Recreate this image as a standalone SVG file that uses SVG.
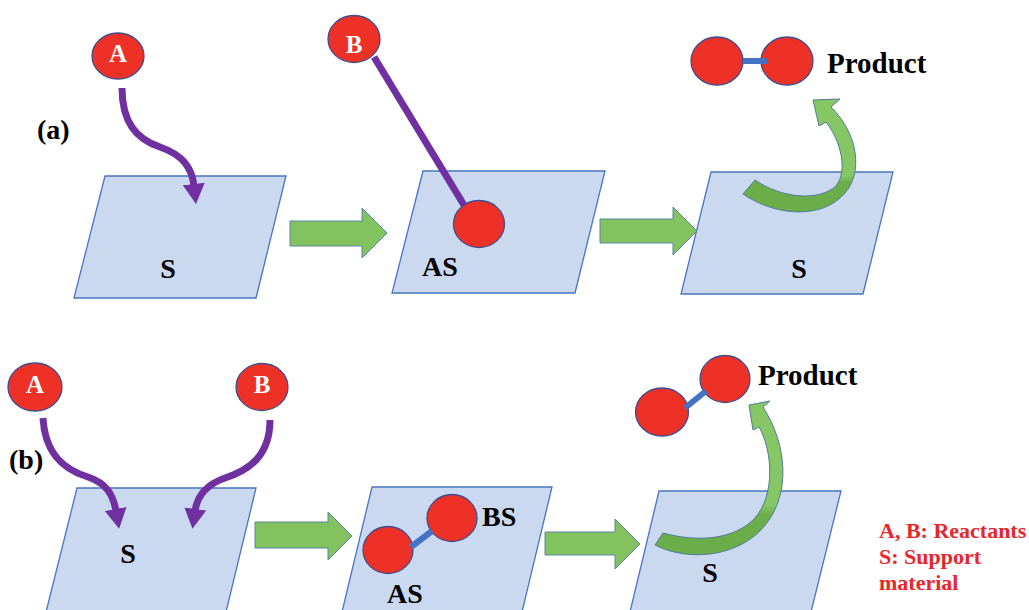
<svg xmlns="http://www.w3.org/2000/svg" width="1029" height="610" viewBox="0 0 1029 610">
<style>
  .surf { fill: #CBD9F0; stroke: #4A74BE; stroke-width: 1.3; }
  .atom { fill: #EE3126; stroke: #3E4C8E; stroke-width: 1.3; }
  .bond { stroke: #4472C4; stroke-width: 6; fill: none; }
  .purple { stroke: #7030A0; stroke-width: 7; fill: none; }
  .block { fill: #82C360; stroke: #5A86A8; stroke-width: 1; }
  .curl { fill: url(#curlFill); stroke: #4F7B9A; stroke-width: 1; }
  text { font-family: "Liberation Serif", "Times New Roman", serif; font-weight: bold; }
  .lbl { font-size: 28px; fill: #000; }
  .atomlbl { font-size: 25px; fill: #fff; text-anchor: middle; }
  .prod { font-size: 29px; fill: #000; }
  .panel { font-size: 28px; fill: #000; }
  .legend { font-size: 22px; fill: #E8262B; }
</style>
<defs>
  <marker id="purpleHead" viewBox="0 0 20 22" refX="2" refY="11" markerWidth="20" markerHeight="22" markerUnits="userSpaceOnUse" orient="auto">
    <path d="M0,0 L20,11 L0,22 Z" fill="#7030A0"/>
  </marker>
  <linearGradient id="curlFill" x1="0" y1="0" x2="0" y2="1">
    <stop offset="0" stop-color="#86C664"/>
    <stop offset="0.68" stop-color="#86C664"/>
    <stop offset="0.74" stop-color="#6BAE49"/>
    <stop offset="1" stop-color="#6BAE49"/>
  </linearGradient>
</defs>
<rect width="1029" height="610" fill="#FFFFFF"/>

<!-- surfaces -->
<g id="surface-a1"><polygon class="surf" points="105,176 286,176 256,298 74,298"/><text class="lbl" x="168" y="278" text-anchor="middle">S</text></g>
<g id="surface-a2"><polygon class="surf" points="423,171 605,171 575,293 392,293"/><text class="lbl" x="422" y="276">AS</text></g>
<g id="surface-a3"><polygon class="surf" points="711,172 893,172 863,294 681,294"/><text class="lbl" x="799" y="278" text-anchor="middle">S</text></g>
<g id="surface-b1"><polygon class="surf" points="77,488 256,488 226,612 46,612"/><text class="lbl" x="128" y="563" text-anchor="middle">S</text></g>
<g id="surface-b2"><polygon class="surf" points="372,487 552,487 522,612 342,612"/><text class="lbl" x="387" y="603">AS</text><text class="lbl" x="482" y="526">BS</text></g>
<g id="surface-b3"><polygon class="surf" points="659,491 841,491 811,612 630,612"/><text class="lbl" x="710" y="582" text-anchor="middle">S</text></g>

<!-- connectors -->
<g id="connectors">
  <path class="purple" d="M122,88 C122,122 136,139 160,147 C183,155 192,168 194,186" marker-end="url(#purpleHead)"/>
  <line class="purple" x1="374" y1="57" x2="470" y2="215"/>
  <path class="purple" d="M43,418 C45,455 65,470 88,477 C106,483 113,494 116,511" marker-end="url(#purpleHead)"/>
  <path class="purple" d="M270,420 C270,455 250,470 225,478 C205,485 197,497 195,511" marker-end="url(#purpleHead)"/>
  <polygon class="block" points="290,221 362,221 362,208 387,233 362,258 362,246 290,246"/>
  <polygon class="block" points="600,219 673,219 673,207 697,231 673,255 673,243 600,243"/>
  <polygon class="block" points="255,522 328,522 328,512 352,536 328,560 328,548 255,548"/>
  <polygon class="block" points="545,532 615,532 615,519 640,544 615,569 615,555 545,555"/>
  <path class="curl" d="M743,194 C775,216 822,220 845,193 C862,174 860,136 831,107 L840,99 L813,100 L819,126 L826,122 C841,141 848,171 836,186 C818,202 781,198 755,180 Z"/>
  <path class="curl" d="M655,545 C690,563 742,556 766,524 C790,494 788,446 763,407 L770,401 L749,405 L753,430 L759,427 C773,452 775,495 755,518 C735,539 700,543 663,533 Z"/>
</g>

<!-- atoms -->
<g id="atom-a-A"><ellipse class="atom" cx="118" cy="56" rx="26" ry="23"/><text class="atomlbl" x="118" y="62">A</text></g>
<g id="atom-a-B"><ellipse class="atom" cx="354" cy="39" rx="26" ry="23.5"/><text class="atomlbl" x="354" y="53">B</text></g>
<g id="atom-a-AS"><ellipse class="atom" cx="479" cy="224" rx="25.5" ry="23.5"/></g>
<g id="product-a">
  <ellipse class="atom" cx="717" cy="61" rx="26" ry="24"/>
  <ellipse class="atom" cx="787" cy="61" rx="26" ry="24"/>
  <line class="bond" x1="743" y1="61" x2="767" y2="61"/>
  <text class="prod" x="827" y="73">Product</text>
</g>
<g id="panel-a"><text class="panel" x="37" y="139">(a)</text></g>

<g id="atom-b-A"><ellipse class="atom" cx="35" cy="387" rx="27" ry="24"/><text class="atomlbl" x="35" y="393">A</text></g>
<g id="atom-b-B"><ellipse class="atom" cx="262" cy="387" rx="26" ry="23.5"/><text class="atomlbl" x="262" y="393">B</text></g>
<g id="adsorbed-b">
  <ellipse class="atom" cx="388" cy="550" rx="25" ry="23.5"/>
  <ellipse class="atom" cx="452" cy="518" rx="25" ry="23.5"/>
  <line class="bond" x1="411" y1="547" x2="432" y2="531"/>
</g>
<g id="product-b">
  <ellipse class="atom" cx="662" cy="412" rx="26.5" ry="24"/>
  <ellipse class="atom" cx="725" cy="379" rx="25" ry="23.5"/>
  <line class="bond" x1="685" y1="408" x2="706" y2="391"/>
  <text class="prod" x="758" y="385">Product</text>
</g>
<g id="panel-b"><text class="panel" x="9" y="469">(b)</text></g>

<g id="legend">
  <text class="legend" x="879" y="538">A, B: Reactants</text>
  <text class="legend" x="879" y="564">S: Support</text>
  <text class="legend" x="879" y="590">material</text>
</g>
</svg>
